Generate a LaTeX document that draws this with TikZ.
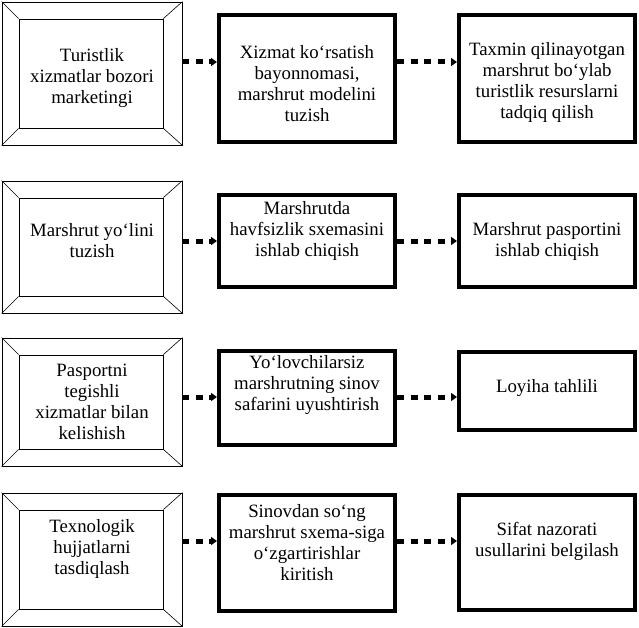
\documentclass[tikz,border=0pt]{standalone}
\usepackage{fontspec}
\setmainfont{Liberation Serif}
\usetikzlibrary{arrows.meta,positioning}
\tikzset{
  frame/.style={draw,line width=0.8pt,inner sep=0pt,minimum width=#1},
  frame/.default=180pt,
  plain box/.style={draw,line width=4pt,inner sep=0pt,minimum width=176pt},
  txt/.style={align=center,font=\fontsize{18.8}{21}\selectfont,inner sep=0pt},
  dotflow/.style={line width=5pt,dash pattern=on 7pt off 6.5pt,
    -{Triangle[length=6pt,width=8pt]}},
}
\begin{document}
\begin{tikzpicture}[x=1pt,y=-1pt]
  \useasboundingbox (0,0) rectangle (639,628);
  % left column: framed boxes
  \foreach \r/\y/\h/\ty/\t in {
    1/73.5/143/78/{Turistlik\\xizmatlar bozori\\marketingi},
    2/247/132/240.5/{Marshrut yo‘lini\\tuzish},
    3/402/128/402/{Pasportni\\tegishli\\xizmatlar bilan\\kelishish},
    4/559.5/133/548.5/{Texnologik\\hujjatlarni\\tasdiqlash}}{
    \node[frame,minimum height=\h] (o\r) at (92,\y) {};
    \node[frame=144pt,minimum height=\h-34] (i\r) at (91,\y) {};
    \foreach \c in {north west,north east,south west,south east}
      \draw[line width=0.6pt] (o\r.\c) -- (i\r.\c);
    \node[txt] (a\r) at (92,\ty) {\t};
  }
  % middle column
  \foreach \r/\y/\h/\ty/\t in {
    1/78.75/127.5/83.5/{Xizmat ko‘rsatish\\bayonnomasi,\\marshrut modelini\\tuzish},
    2/241/92/230.5/{Marshrutda\\havfsizlik sxemasini\\ishlab chiqish},
    3/398/94/385/{Yo‘lovchilarsiz\\marshrutning sinov\\safarini uyushtirish},
    4/553/116/542.5/{Sinovdan so‘ng\\marshrut sxema-siga\\o‘zgartirishlar\\kiritish}}{
    \node[plain box,minimum height=\h] (b\r) at (307,\y) {};
    \node[txt] (tb\r) at (307,\ty) {\t};
  }
  % right column
  \foreach \r/\y/\h/\ty/\t in {
    1/78.75/127.5/82/{Taxmin qilinayotgan\\marshrut bo‘ylab\\turistlik resurslarni\\tadqiq qilish},
    2/241/92/241.5/{Marshrut pasportini\\ishlab chiqish},
    3/391/78/388.5/{Loyiha tahlili},
    4/552.5/115/541.5/{Sifat nazorati\\usullarini belgilash}}{
    \node[plain box,minimum height=\h] (c\r) at (547,\y) {};
    \node[txt] (tc\r) at (547,\ty) {\t};
  }
  % dotted arrows
  \foreach \r/\y in {1/62,2/241,3/397,4/541}{
    \coordinate (y\r) at (0,\y);
    \draw[dotflow] (o\r.east |- y\r) -- (b\r.west |- y\r);
    \draw[dotflow] (b\r.east |- y\r) -- (c\r.west |- y\r);
  }
\end{tikzpicture}
\end{document}
